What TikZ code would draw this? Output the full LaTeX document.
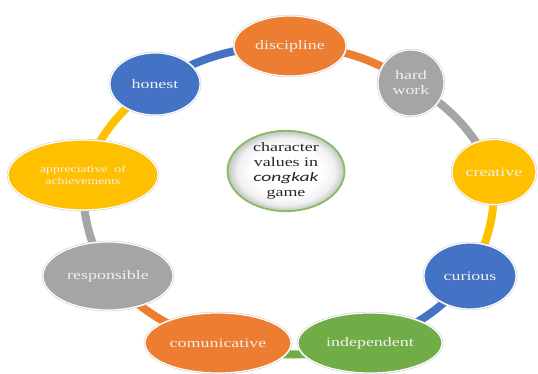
\documentclass[tikz,border=0pt]{standalone}
\usepackage{fontspec}
\setmainfont{Liberation Serif}[FakeStretch=1.38]
\newfontfamily\gamefont{Carlito}[FakeStretch=1.5]
\usepackage{tikz}
\usetikzlibrary{shapes.geometric,backgrounds}
\definecolor{vorange}{HTML}{ED7D31}
\definecolor{vgray}{HTML}{A5A5A5}
\definecolor{vyellow}{HTML}{FFC000}
\definecolor{vblue}{HTML}{4472C4}
\definecolor{vgreen}{HTML}{70AD47}
\definecolor{rimgreen}{HTML}{86BC62}
% the inner 50bp square of a shading is stretched onto the node
\pgfdeclareradialshading{hubglow}{\pgfpoint{0bp}{0bp}}{color(0bp)=(white); color(15bp)=(white); color(21bp)=(black!6); color(25bp)=(black!24); color(50bp)=(black!24)}

\begin{document}
\begin{tikzpicture}[x=1pt, y=1pt,
  font=\fontsize{13}{15}\selectfont,
  v/.style={ellipse, fill=#1, draw=white, line width=1.2pt,
            preaction={draw=black!18, line width=2.4pt},
            text=white!94!black, align=center, inner sep=0pt},
  hub/.style={ellipse, draw=rimgreen, line width=1.8pt, shading=hubglow,
              text=black!85, align=center, inner sep=0pt,
              minimum width=117pt, minimum height=72pt},
  ring/.style={line width=8pt, draw=#1}]
\useasboundingbox (0,0) rectangle (538,374);
\node[hub] (hub) at (286,203) {character\\values in\\{\gamefont\itshape congkak}\\game};
\node[v=vorange, minimum width=112pt, minimum height=60pt] (disc) at (290,328) {discipline};
\node[v=vgray, minimum width=66pt, minimum height=66pt] (hard) at (411,291) {hard\\work};
\node[v=vyellow, minimum width=84pt, minimum height=65pt] (crea) at (494,202) {creative};
\node[v=vblue, minimum width=92pt, minimum height=66pt] (curi) at (470,98) {curious};
\node[v=vgreen, minimum width=144pt, minimum height=60pt] (inde) at (370,31) {independent};
\node[v=vorange, minimum width=146pt, minimum height=60pt] (comu) at (218,31) {comunicative};
\node[v=vgray, minimum width=130pt, minimum height=68pt] (resp) at (108,98) {responsible};
\node[v=vyellow, minimum width=150pt, minimum height=70pt,
      font=\fontsize{10}{12}\selectfont] (appr) at (83,199) {appreciative\ \ of\\achievements};
\node[v=vblue, minimum width=90pt, minimum height=62pt] (hone) at (155,290) {honest};
\begin{scope}[on background layer]
\foreach \a/\b/\c in {disc/hard/vorange, hard/crea/vgray, crea/curi/vyellow,
    curi/inde/vblue, inde/comu/vgreen, comu/resp/vorange, resp/appr/vgray,
    appr/hone/vyellow, hone/disc/vblue}
  \draw[ring=\c] (\a.center) to[bend left=15] (\b.center);
\end{scope}
\end{tikzpicture}
\end{document}
